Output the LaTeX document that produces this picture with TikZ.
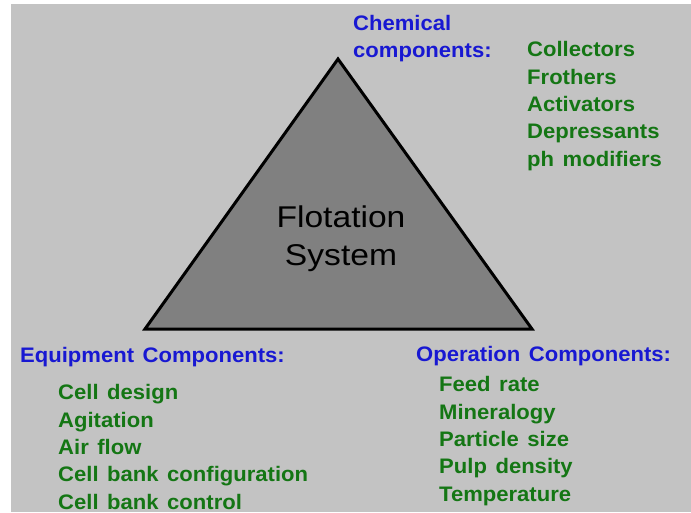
\documentclass[tikz,border=0pt]{standalone}
\usepackage{fontspec}
\setmainfont[FakeStretch=1.05,WordSpace=1.4]{Liberation Sans}
\newfontfamily\sysfont[FakeStretch=1.12]{Liberation Sans}
\definecolor{bggray}{RGB}{195,195,195}
\definecolor{trigray}{RGB}{128,128,128}
\definecolor{headblue}{RGB}{24,24,210}
\definecolor{itemgreen}{RGB}{20,118,20}
\tikzset{
  heading/.style={anchor=base west, inner sep=0pt, align=left, text=headblue,
    font=\bfseries\fontsize{21}{27}\selectfont},
  itemlist/.style={anchor=base west, inner sep=0pt, align=left, text=itemgreen,
    font=\bfseries\fontsize{21}{27.3}\selectfont},
  systext/.style={anchor=base, inner sep=0pt, align=center, text=black,
    font=\sysfont\fontsize{30}{38}\selectfont}
}
\begin{document}
\begin{tikzpicture}[x=1pt,y=-1pt]
\useasboundingbox (0,0) rectangle (691,512);
\fill[white] (0,0) rectangle (691,512);
\fill[bggray] (11,4) rectangle (691,512);
\coordinate (apex) at (338,59);
\coordinate (bl) at (145,329);
\coordinate (br) at (532,329);
\draw[line width=3pt, fill=trigray, line join=miter] (apex) -- (br) -- (bl) -- cycle;
% multi-line nodes: anchor "base" is the baseline of the last line
\node[systext] (sys) at (341,265) {Flotation\\System};
\node[heading] (chem) at (353,57) {Chemical\\components:};
\node[itemlist] (chemitems) at (527,166) {Collectors\\Frothers\\Activators\\Depressants\\ph modifiers};
\node[heading] (equip) at (20,362) {Equipment Components:};
\node[itemlist] (equipitems) at (58,509) {Cell design\\Agitation\\Air flow\\Cell bank configuration\\Cell bank control};
\node[heading] (oper) at (416,361) {Operation Components:};
\node[itemlist] (operitems) at (439,501) {Feed rate\\Mineralogy\\Particle size\\Pulp density\\Temperature};
\end{tikzpicture}
\end{document}
